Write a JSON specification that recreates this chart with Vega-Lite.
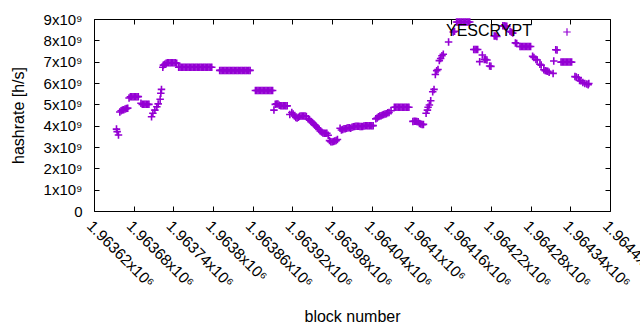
{
"$schema": "https://vega.github.io/schema/vega-lite/v6.json",
"width": 516, "height": 192,
"autosize": {"type": "none"},
"padding": {"left": 94, "top": 19, "right": 30, "bottom": 119},
"background": "white",
"config": {
  "view": {"stroke": "black", "strokeWidth": 1},
  "font": "Liberation Sans",
  "axis": {"domain": false, "grid": false, "tickColor": "black", "tickWidth": 1, "labelColor": "black", "titleColor": "black", "labelFontSize": 15, "titleFontSize": 16, "titleFontWeight": "normal", "labelFont": "Liberation Sans", "titleFont": "Liberation Sans"}
},
"datasets": {"blocks": [
{"block":1963654,"hashrate":3.84e9},{"block":1963655,"hashrate":3.72e9},{"block":1963657,"hashrate":3.56e9},
{"block":1963659,"hashrate":4.64e9},{"block":1963661,"hashrate":4.70e9},{"block":1963663,"hashrate":4.73e9},{"block":1963665,"hashrate":4.75e9},{"block":1963667,"hashrate":4.78e9},{"block":1963669,"hashrate":4.80e9},{"block":1963671,"hashrate":4.82e9},
{"block":1963673,"hashrate":5.30e9},{"block":1963675,"hashrate":5.35e9},{"block":1963677,"hashrate":5.36e9},{"block":1963679,"hashrate":5.36e9},{"block":1963681,"hashrate":5.36e9},{"block":1963683,"hashrate":5.36e9},{"block":1963685,"hashrate":5.36e9},{"block":1963687,"hashrate":5.36e9},
{"block":1963691,"hashrate":5.05e9},{"block":1963693,"hashrate":5.00e9},{"block":1963695,"hashrate":5.00e9},{"block":1963697,"hashrate":5.00e9},{"block":1963699,"hashrate":5.00e9},{"block":1963701,"hashrate":5.00e9},{"block":1963703,"hashrate":5.00e9},
{"block":1963707,"hashrate":4.42e9},{"block":1963709,"hashrate":4.58e9},{"block":1963712,"hashrate":4.73e9},{"block":1963715,"hashrate":4.89e9},{"block":1963717,"hashrate":5.02e9},{"block":1963720,"hashrate":5.24e9},{"block":1963721,"hashrate":5.52e9},{"block":1963722,"hashrate":5.70e9},
{"block":1963724,"hashrate":6.74e9},{"block":1963725,"hashrate":6.84e9},{"block":1963727,"hashrate":6.88e9},{"block":1963729,"hashrate":6.93e9},{"block":1963731,"hashrate":6.95e9},{"block":1963733,"hashrate":6.95e9},{"block":1963735,"hashrate":6.95e9},{"block":1963737,"hashrate":6.95e9},{"block":1963739,"hashrate":6.95e9},{"block":1963741,"hashrate":6.95e9},{"block":1963743,"hashrate":6.95e9},{"block":1963745,"hashrate":6.93e9},
{"block":1963748,"hashrate":6.74e9},{"block":1963750,"hashrate":6.74e9},{"block":1963752,"hashrate":6.74e9},{"block":1963754,"hashrate":6.74e9},{"block":1963756,"hashrate":6.74e9},{"block":1963758,"hashrate":6.74e9},{"block":1963760,"hashrate":6.74e9},{"block":1963762,"hashrate":6.74e9},{"block":1963764,"hashrate":6.74e9},{"block":1963766,"hashrate":6.74e9},{"block":1963768,"hashrate":6.74e9},{"block":1963770,"hashrate":6.74e9},{"block":1963772,"hashrate":6.74e9},{"block":1963774,"hashrate":6.74e9},{"block":1963776,"hashrate":6.74e9},{"block":1963778,"hashrate":6.74e9},{"block":1963780,"hashrate":6.74e9},{"block":1963782,"hashrate":6.74e9},{"block":1963784,"hashrate":6.74e9},{"block":1963786,"hashrate":6.74e9},{"block":1963788,"hashrate":6.74e9},{"block":1963790,"hashrate":6.74e9},{"block":1963792,"hashrate":6.74e9},{"block":1963794,"hashrate":6.74e9},{"block":1963796,"hashrate":6.74e9},{"block":1963798,"hashrate":6.74e9},
{"block":1963810,"hashrate":6.59e9},{"block":1963812,"hashrate":6.59e9},{"block":1963814,"hashrate":6.59e9},{"block":1963816,"hashrate":6.59e9},{"block":1963818,"hashrate":6.59e9},{"block":1963820,"hashrate":6.59e9},{"block":1963822,"hashrate":6.59e9},{"block":1963824,"hashrate":6.59e9},{"block":1963826,"hashrate":6.59e9},{"block":1963828,"hashrate":6.59e9},{"block":1963830,"hashrate":6.59e9},{"block":1963832,"hashrate":6.59e9},{"block":1963834,"hashrate":6.59e9},{"block":1963836,"hashrate":6.59e9},{"block":1963838,"hashrate":6.59e9},{"block":1963840,"hashrate":6.59e9},{"block":1963842,"hashrate":6.59e9},{"block":1963844,"hashrate":6.59e9},{"block":1963846,"hashrate":6.59e9},{"block":1963848,"hashrate":6.59e9},{"block":1963850,"hashrate":6.59e9},{"block":1963852,"hashrate":6.59e9},{"block":1963854,"hashrate":6.59e9},{"block":1963856,"hashrate":6.59e9},
{"block":1963864,"hashrate":5.65e9},{"block":1963866,"hashrate":5.65e9},{"block":1963868,"hashrate":5.65e9},{"block":1963870,"hashrate":5.65e9},{"block":1963872,"hashrate":5.65e9},{"block":1963874,"hashrate":5.65e9},{"block":1963876,"hashrate":5.65e9},{"block":1963878,"hashrate":5.65e9},{"block":1963880,"hashrate":5.65e9},{"block":1963882,"hashrate":5.65e9},{"block":1963884,"hashrate":5.65e9},{"block":1963886,"hashrate":5.65e9},{"block":1963888,"hashrate":5.65e9},{"block":1963890,"hashrate":5.65e9},
{"block":1963892,"hashrate":4.73e9},{"block":1963894,"hashrate":5.00e9},{"block":1963896,"hashrate":5.02e9},{"block":1963898,"hashrate":5.02e9},{"block":1963900,"hashrate":4.96e9},{"block":1963902,"hashrate":4.93e9},{"block":1963904,"hashrate":4.93e9},{"block":1963906,"hashrate":4.93e9},{"block":1963908,"hashrate":4.93e9},{"block":1963910,"hashrate":4.93e9},{"block":1963912,"hashrate":4.93e9},
{"block":1963916,"hashrate":4.52e9},{"block":1963919,"hashrate":4.62e9},{"block":1963921,"hashrate":4.55e9},{"block":1963923,"hashrate":4.45e9},{"block":1963925,"hashrate":4.38e9},{"block":1963927,"hashrate":4.36e9},{"block":1963929,"hashrate":4.40e9},{"block":1963931,"hashrate":4.44e9},{"block":1963933,"hashrate":4.45e9},{"block":1963935,"hashrate":4.45e9},{"block":1963937,"hashrate":4.45e9},{"block":1963939,"hashrate":4.45e9},{"block":1963941,"hashrate":4.43e9},
{"block":1963944,"hashrate":4.32e9},{"block":1963946,"hashrate":4.26e9},{"block":1963948,"hashrate":4.20e9},{"block":1963950,"hashrate":4.15e9},{"block":1963952,"hashrate":4.08e9},{"block":1963954,"hashrate":4.02e9},{"block":1963956,"hashrate":3.97e9},{"block":1963958,"hashrate":3.90e9},{"block":1963960,"hashrate":3.82e9},{"block":1963962,"hashrate":3.75e9},{"block":1963964,"hashrate":3.70e9},{"block":1963966,"hashrate":3.66e9},{"block":1963968,"hashrate":3.64e9},{"block":1963970,"hashrate":3.64e9},{"block":1963972,"hashrate":3.64e9},{"block":1963974,"hashrate":3.55e9},{"block":1963976,"hashrate":3.30e9},{"block":1963978,"hashrate":3.25e9},{"block":1963980,"hashrate":3.24e9},{"block":1963982,"hashrate":3.26e9},{"block":1963984,"hashrate":3.28e9},{"block":1963986,"hashrate":3.30e9},{"block":1963988,"hashrate":3.35e9},
{"block":1963992,"hashrate":3.88e9},{"block":1963994,"hashrate":3.80e9},{"block":1963996,"hashrate":3.82e9},{"block":1963998,"hashrate":3.85e9},{"block":1964000,"hashrate":3.86e9},{"block":1964002,"hashrate":3.88e9},{"block":1964004,"hashrate":3.90e9},{"block":1964006,"hashrate":3.90e9},{"block":1964008,"hashrate":3.88e9},{"block":1964010,"hashrate":3.93e9},{"block":1964012,"hashrate":3.95e9},{"block":1964014,"hashrate":3.96e9},{"block":1964016,"hashrate":3.97e9},{"block":1964018,"hashrate":3.97e9},{"block":1964020,"hashrate":3.97e9},{"block":1964022,"hashrate":3.96e9},{"block":1964024,"hashrate":3.96e9},{"block":1964026,"hashrate":3.96e9},{"block":1964028,"hashrate":3.98e9},{"block":1964030,"hashrate":4.00e9},{"block":1964032,"hashrate":4.00e9},{"block":1964034,"hashrate":4.00e9},{"block":1964036,"hashrate":4.00e9},{"block":1964038,"hashrate":4.00e9},{"block":1964040,"hashrate":4.00e9},{"block":1964042,"hashrate":4.00e9},
{"block":1964046,"hashrate":4.32e9},{"block":1964048,"hashrate":4.36e9},{"block":1964050,"hashrate":4.42e9},{"block":1964052,"hashrate":4.45e9},{"block":1964054,"hashrate":4.46e9},{"block":1964056,"hashrate":4.50e9},{"block":1964058,"hashrate":4.52e9},{"block":1964060,"hashrate":4.55e9},{"block":1964062,"hashrate":4.56e9},{"block":1964064,"hashrate":4.60e9},{"block":1964066,"hashrate":4.62e9},{"block":1964069,"hashrate":4.70e9},
{"block":1964074,"hashrate":4.86e9},{"block":1964076,"hashrate":4.86e9},{"block":1964078,"hashrate":4.86e9},{"block":1964080,"hashrate":4.86e9},{"block":1964082,"hashrate":4.86e9},{"block":1964084,"hashrate":4.86e9},{"block":1964086,"hashrate":4.86e9},{"block":1964088,"hashrate":4.86e9},{"block":1964090,"hashrate":4.86e9},{"block":1964092,"hashrate":4.86e9},{"block":1964094,"hashrate":4.86e9},{"block":1964096,"hashrate":4.86e9},
{"block":1964102,"hashrate":4.20e9},{"block":1964104,"hashrate":4.21e9},{"block":1964106,"hashrate":4.21e9},{"block":1964108,"hashrate":4.20e9},{"block":1964110,"hashrate":4.18e9},{"block":1964112,"hashrate":4.10e9},{"block":1964114,"hashrate":4.08e9},{"block":1964116,"hashrate":4.05e9},{"block":1964118,"hashrate":4.06e9},
{"block":1964122,"hashrate":4.58e9},{"block":1964124,"hashrate":4.73e9},{"block":1964125,"hashrate":4.86e9},{"block":1964127,"hashrate":4.97e9},{"block":1964129,"hashrate":5.17e9},{"block":1964132,"hashrate":5.59e9},{"block":1964134,"hashrate":5.70e9},
{"block":1964136,"hashrate":6.40e9},{"block":1964138,"hashrate":6.58e9},{"block":1964140,"hashrate":6.63e9},
{"block":1964142,"hashrate":7.05e9},{"block":1964144,"hashrate":7.15e9},{"block":1964146,"hashrate":7.28e9},{"block":1964148,"hashrate":7.35e9},
{"block":1964156,"hashrate":7.92e9},{"block":1964163,"hashrate":8.39e9},{"block":1964165,"hashrate":8.42e9},
{"block":1964168,"hashrate":8.86e9},{"block":1964170,"hashrate":8.86e9},{"block":1964172,"hashrate":8.86e9},{"block":1964174,"hashrate":8.86e9},{"block":1964176,"hashrate":8.86e9},{"block":1964178,"hashrate":8.86e9},{"block":1964180,"hashrate":8.86e9},{"block":1964182,"hashrate":8.86e9},{"block":1964184,"hashrate":8.86e9},{"block":1964186,"hashrate":8.86e9},{"block":1964188,"hashrate":8.86e9},
{"block":1964194,"hashrate":7.57e9},{"block":1964196,"hashrate":7.57e9},{"block":1964198,"hashrate":7.57e9},{"block":1964200,"hashrate":7.57e9},
{"block":1964203,"hashrate":7.00e9},{"block":1964207,"hashrate":7.31e9},{"block":1964210,"hashrate":7.10e9},{"block":1964212,"hashrate":7.10e9},{"block":1964214,"hashrate":7.08e9},{"block":1964218,"hashrate":6.80e9},{"block":1964220,"hashrate":6.78e9},
{"block":1964225,"hashrate":8.20e9},{"block":1964227,"hashrate":8.20e9},{"block":1964229,"hashrate":8.18e9},
{"block":1964238,"hashrate":8.68e9},{"block":1964240,"hashrate":8.68e9},{"block":1964242,"hashrate":8.67e9},{"block":1964244,"hashrate":8.66e9},
{"block":1964249,"hashrate":8.42e9},{"block":1964251,"hashrate":8.38e9},{"block":1964253,"hashrate":8.34e9},
{"block":1964257,"hashrate":7.88e9},{"block":1964259,"hashrate":7.85e9},
{"block":1964264,"hashrate":7.71e9},{"block":1964266,"hashrate":7.71e9},{"block":1964268,"hashrate":7.71e9},{"block":1964270,"hashrate":7.71e9},{"block":1964272,"hashrate":7.71e9},{"block":1964274,"hashrate":7.71e9},{"block":1964276,"hashrate":7.71e9},{"block":1964278,"hashrate":7.71e9},{"block":1964280,"hashrate":7.71e9},
{"block":1964283,"hashrate":7.25e9},{"block":1964285,"hashrate":7.20e9},{"block":1964288,"hashrate":7.10e9},{"block":1964290,"hashrate":7.08e9},{"block":1964294,"hashrate":6.88e9},{"block":1964296,"hashrate":6.84e9},{"block":1964300,"hashrate":6.62e9},{"block":1964302,"hashrate":6.58e9},{"block":1964304,"hashrate":6.56e9},{"block":1964306,"hashrate":6.55e9},{"block":1964308,"hashrate":6.50e9},{"block":1964314,"hashrate":6.45e9},{"block":1964315,"hashrate":7.03e9},{"block":1964318,"hashrate":7.56e9},{"block":1964320,"hashrate":7.55e9},
{"block":1964326,"hashrate":6.98e9},{"block":1964328,"hashrate":6.98e9},{"block":1964330,"hashrate":6.98e9},{"block":1964332,"hashrate":6.98e9},{"block":1964334,"hashrate":6.98e9},{"block":1964336,"hashrate":6.98e9},{"block":1964338,"hashrate":6.98e9},{"block":1964340,"hashrate":6.98e9},{"block":1964342,"hashrate":6.98e9},
{"block":1964347,"hashrate":6.30e9},{"block":1964349,"hashrate":6.28e9},{"block":1964352,"hashrate":6.25e9},{"block":1964354,"hashrate":6.12e9},{"block":1964356,"hashrate":6.10e9},{"block":1964359,"hashrate":6.02e9},{"block":1964362,"hashrate":5.98e9},{"block":1964365,"hashrate":5.95e9},{"block":1964367,"hashrate":5.92e9},{"block":1964368,"hashrate":5.98e9}
]},
"layer": [
  {
    "data": {"name": "blocks"},
    "mark": {"type": "point", "shape": "M-1,0L1,0M0,-1L0,1", "filled": false, "color": "#9400d3", "size": 56, "strokeWidth": 1.6, "opacity": 1},
    "encoding": {
      "x": {"field": "block", "type": "quantitative",
        "scale": {"domain": [1963620, 1964400], "nice": false, "zero": false},
        "axis": {"orient": "bottom", "values": [1963620,1963680,1963740,1963800,1963860,1963920,1963980,1964040,1964100,1964160,1964220,1964280,1964340,1964400],
          "labelExpr": "format(datum.value/1e6, '.6~g') + 'x10⁶'",
          "labelAngle": 45, "labelAlign": "left", "labelBaseline": "top", "labelPadding": 12, "labelFontSize": 15.5, "tickSize": -5, "labelOverlap": false,
          "title": "block number", "titleY": 110, "titleBaseline": "alphabetic"}},
      "y": {"field": "hashrate", "type": "quantitative",
        "scale": {"domain": [0, 9000000000], "nice": false},
        "axis": {"orient": "left", "values": [0,1e9,2e9,3e9,4e9,5e9,6e9,7e9,8e9,9e9],
          "labelExpr": "datum.value == 0 ? '0' : format(datum.value/1e9, 'd') + 'x10⁹'",
          "labelPadding": 17, "tickSize": -5, "labelOverlap": false,
          "title": "hashrate [h/s]", "titleX": -71, "titleBaseline": "alphabetic"}}
    }
  },
  {
    "data": {"values": [{"series": "YESCRYPT"}]},
    "mark": {"type": "text", "align": "right", "baseline": "middle", "fontSize": 16, "font": "Liberation Sans", "color": "black"},
    "encoding": {
      "x": {"datum": 1964282, "type": "quantitative", "axis": null},
      "y": {"datum": 8440000000, "type": "quantitative", "axis": null},
      "text": {"field": "series"}
    }
  },
  {
    "data": {"values": [{"series": "YESCRYPT"}]},
    "mark": {"type": "point", "shape": "M-1,0L1,0M0,-1L0,1", "filled": false, "color": "#9400d3", "size": 56, "strokeWidth": 1.2, "opacity": 1},
    "encoding": {
      "x": {"datum": 1964335, "type": "quantitative",
        "axis": {"orient": "top", "values": [1963620,1963680,1963740,1963800,1963860,1963920,1963980,1964040,1964100,1964160,1964220,1964280,1964340,1964400], "labels": false, "tickSize": -5, "title": null}},
      "y": {"datum": 8390000000, "type": "quantitative",
        "axis": {"orient": "right", "values": [0,1e9,2e9,3e9,4e9,5e9,6e9,7e9,8e9,9e9], "labels": false, "tickSize": -5, "title": null}}
    }
  }
],
"resolve": {"axis": {"x": "independent", "y": "independent"}}
}
